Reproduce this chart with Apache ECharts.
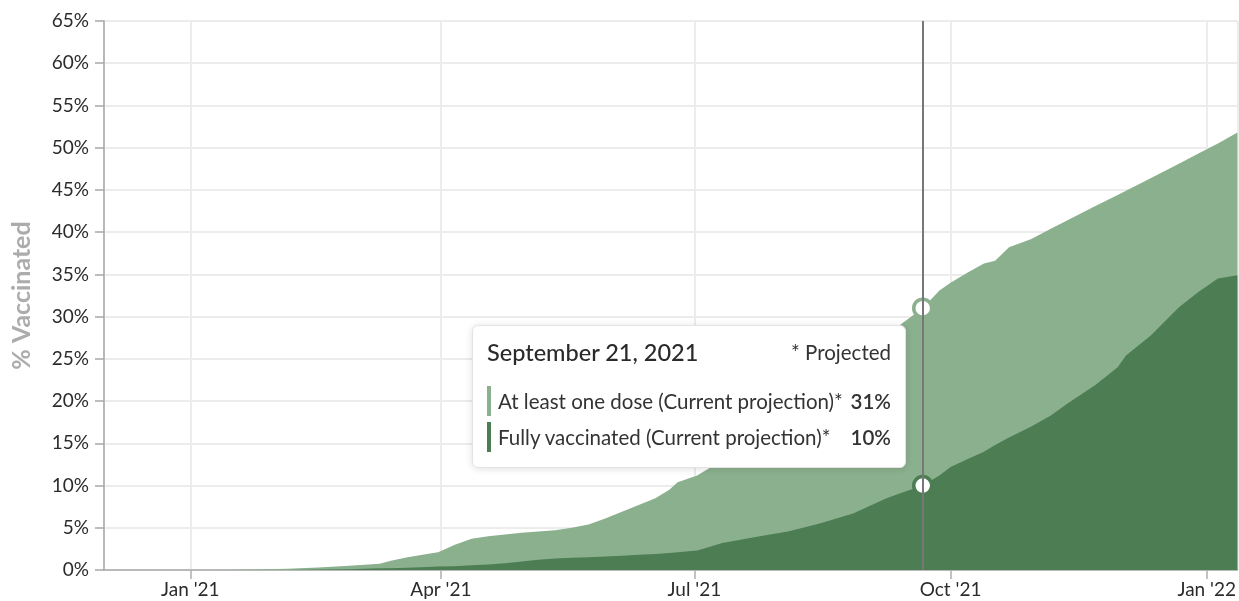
<!DOCTYPE html>
<html>
<head>
<meta charset="utf-8">
<script src="https://cdn.jsdelivr.net/npm/echarts@6/dist/echarts.min.js"></script>
<style>
  html, body { margin: 0; padding: 0; background: #fff; }
  #chart { width: 1239px; height: 601px; }
</style>
</head>
<body>
<div id="chart"></div>
<script>
// ---- data ----
const dates = [
  '2020-12-01','2021-01-10','2021-01-24','2021-02-05','2021-02-16','2021-02-27',
  '2021-03-10','2021-03-14','2021-03-20','2021-03-27','2021-03-31','2021-04-06',
  '2021-04-12','2021-04-18','2021-04-24','2021-04-30','2021-05-06','2021-05-12',
  '2021-05-18','2021-05-24','2021-05-30','2021-06-05','2021-06-11','2021-06-17',
  '2021-06-22','2021-06-25','2021-07-02','2021-07-06','2021-07-11','2021-07-23',
  '2021-08-04','2021-08-15','2021-08-27','2021-09-08','2021-09-14','2021-09-21',
  '2021-09-27','2021-10-01','2021-10-07','2021-10-13','2021-10-17','2021-10-22',
  '2021-10-30','2021-11-06','2021-11-12','2021-11-22','2021-11-30','2021-12-03',
  '2021-12-12','2021-12-22','2021-12-29','2022-01-05','2022-01-12'
];
const atLeastOneDose = [
  0, 0, 0.05, 0.15, 0.3, 0.5,
  0.75, 1.1, 1.5, 1.9, 2.1, 3.0,
  3.7, 4.0, 4.2, 4.4, 4.55, 4.7,
  5.0, 5.4, 6.1, 6.9, 7.7, 8.5,
  9.5, 10.4, 11.2, 12.0, 12.8, 15.5,
  18.6, 21.5, 24.5, 27.8, 29.3, 31.0,
  33.1, 34.0, 35.2, 36.3, 36.6, 38.2,
  39.2, 40.4, 41.4, 43.1, 44.4, 44.9,
  46.4, 48.1, 49.3, 50.5, 51.8
];
const fullyVaccinated = [
  0, 0, 0, 0, 0.05, 0.1,
  0.2, 0.22, 0.28, 0.35, 0.4, 0.45,
  0.55, 0.65, 0.8, 1.0, 1.2, 1.35,
  1.45, 1.5, 1.6, 1.7, 1.8, 1.9,
  2.0, 2.1, 2.3, 2.7, 3.2, 3.9,
  4.6, 5.5, 6.7, 8.5, 9.2, 10.0,
  11.2, 12.2, 13.1, 14.0, 14.8, 15.7,
  17.0, 18.3, 19.7, 21.9, 24.0, 25.4,
  27.8, 31.1, 32.9, 34.5, 34.9
];
const seriesNames = ['At least one dose (Current projection)*', 'Fully vaccinated (Current projection)*'];
const seriesColors = ['#8bb08e', '#4d7d52'];
const monthShort = ['Jan','Feb','Mar','Apr','May','Jun','Jul','Aug','Sep','Oct','Nov','Dec'];
const monthLong = ['January','February','March','April','May','June','July','August','September','October','November','December'];
const yAxisName = '% Vaccinated';
const projectedNote = '* Projected';
const axisMin = '2020-12-01';
const axisMax = '2022-01-12';
const highlightDate = '2021-09-21';

const FONT = 'Lato, "Open Sans", sans-serif';

const chart = echarts.init(document.getElementById('chart'), null, { renderer: 'canvas' });

function pairs(vals) { return dates.map((d, i) => [d, vals[i]]); }

function makeSeries(name, vals, color, z) {
  return {
    name: name,
    type: 'line',
    data: pairs(vals),
    z: z,
    showSymbol: false,
    symbol: 'circle',
    symbolSize: 18,
    lineStyle: { width: 0, color: color },
    itemStyle: { color: '#ffffff', borderColor: color, borderWidth: 3.5 },
    areaStyle: { color: color, opacity: 1 },
    emphasis: {
      scale: false,
      focus: 'none',
      lineStyle: { width: 0 },
      areaStyle: { color: color, opacity: 1 },
      itemStyle: { color: '#ffffff', borderColor: color, borderWidth: 3.5 }
    },
    animation: false
  };
}

function tooltipHtml(params) {
  const d = new Date(params[0].axisValue);
  const title = monthLong[d.getMonth()] + ' ' + d.getDate() + ', ' + d.getFullYear();
  let html = '<div style="width:404px;font-family:Lato,sans-serif;color:#333;">';
  html += '<div style="display:flex;justify-content:space-between;align-items:center;height:32px;">' +
          '<span style="font-size:23.5px;font-weight:500;color:#2a2a2a;">' + title + '</span>' +
          '<span style="font-size:20.5px;">' + projectedNote + '</span></div>';
  html += '<div style="height:18px"></div>';
  params.forEach((p, i) => {
    html += '<div style="display:flex;align-items:center;height:30px;' + (i > 0 ? 'margin-top:6px;' : '') + '">' +
            '<span style="display:inline-block;width:4px;height:30px;background:' + seriesColors[p.seriesIndex] + ';"></span>' +
            '<span style="flex:1;margin-left:7px;font-size:20.5px;">' + p.seriesName + '</span>' +
            '<span style="font-size:20.5px;font-weight:600;">' + Math.round(p.value[1]) + '%</span></div>';
  });
  html += '</div>';
  return html;
}

const option = {
  animation: false,
  backgroundColor: '#ffffff',
  textStyle: { fontFamily: FONT },
  grid: { left: 104, right: 0, top: 21, bottom: 31, containLabel: false },
  tooltip: {
    show: true,
    trigger: 'axis',
    triggerOn: 'none',
    alwaysShowContent: true,
    transitionDuration: 0,
    showDelay: 0,
    padding: [10, 14, 15, 14],
    backgroundColor: '#ffffff',
    borderColor: '#e4e4e4',
    borderWidth: 1,
    extraCssText: 'box-shadow:0 1px 7px rgba(0,0,0,0.13);border-radius:6px;',
    position: [472, 325],
    axisPointer: {
      type: 'line',
      lineStyle: { color: '#777777', width: 2, type: 'solid' },
      label: { show: false }
    },
    formatter: tooltipHtml
  },
  xAxis: {
    type: 'time',
    min: axisMin,
    max: axisMax,
    splitNumber: 4,
    axisLine: { show: true, lineStyle: { color: '#a8a8a8', width: 1.5 } },
    axisTick: { show: true, length: 9, lineStyle: { color: '#b0b0b0', width: 1.5 } },
    splitLine: { show: true, lineStyle: { color: '#ececec', width: 2 } },
    axisLabel: {
      color: '#2b2b2b',
      fontSize: 19,
      fontFamily: FONT,
      margin: 10,
      formatter: function (value) {
        const d = new Date(value);
        return monthShort[d.getMonth()] + " '" + String(d.getFullYear()).slice(2);
      }
    }
  },
  yAxis: {
    type: 'value',
    min: 0,
    max: 65,
    interval: 5,
    name: yAxisName,
    nameLocation: 'middle',
    nameRotate: 90,
    nameGap: 70,
    nameTextStyle: { color: '#acacac', fontSize: 25, fontWeight: 'bold', fontFamily: FONT },
    axisLine: { show: true, lineStyle: { color: '#a8a8a8', width: 1.5 } },
    axisTick: { show: true, length: 9, lineStyle: { color: '#a8a8a8', width: 1.5 } },
    splitLine: { show: true, lineStyle: { color: '#ececec', width: 2 } },
    axisLabel: { color: '#2b2b2b', fontSize: 19, fontFamily: FONT, margin: 15, formatter: '{value}%' }
  },
  series: [
    makeSeries(seriesNames[0], atLeastOneDose, seriesColors[0], 2),
    makeSeries(seriesNames[1], fullyVaccinated, seriesColors[1], 3)
  ]
};

chart.setOption(option);
const hIdx = dates.indexOf(highlightDate);
function showIt() {
  chart.dispatchAction({ type: 'showTip', seriesIndex: 0, dataIndex: hIdx });
}
showIt();
setTimeout(showIt, 30);
setTimeout(showIt, 200);
</script>
</body>
</html>
